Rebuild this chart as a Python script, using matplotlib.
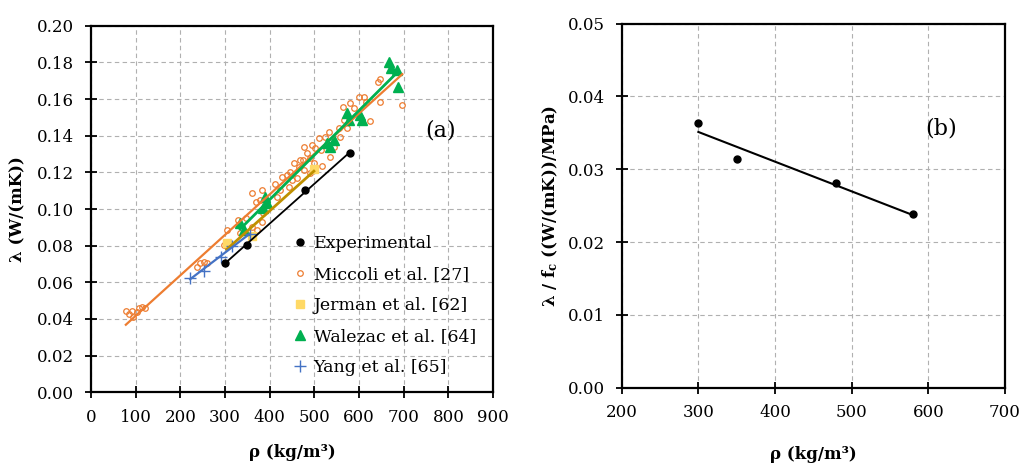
import numpy as np
import matplotlib
matplotlib.use("Agg")
import matplotlib.pyplot as plt
from matplotlib.ticker import FormatStrFormatter, MultipleLocator

plt.rcParams['font.family'] = ['DejaVu Serif']
plt.rcParams['mathtext.fontset'] = 'dejavuserif'

# experimental results
exp_rho = [300, 350, 480, 580]
exp_lam = [0.0705, 0.0805, 0.1105, 0.1305]
exp_lam_fc = [0.0364, 0.0314, 0.0281, 0.0238]

# literature data
miccoli_rho = [78, 84, 91, 95, 104, 108, 114, 120,
               237, 245, 252, 259,
               297, 304, 330, 334, 347, 360, 360, 370, 372, 379, 383, 383, 385,
               413, 417, 424, 428, 439, 443, 446, 450, 454, 461, 465, 469, 475,
               476, 476, 484, 491, 491, 495, 499, 502, 510, 514, 518, 525, 532,
               536, 544, 555, 558, 566, 574, 565, 580, 589, 600, 611, 615, 625,
               643, 648, 648, 697]
miccoli_lam = [0.0444, 0.0426, 0.0444, 0.0413, 0.0436, 0.0458, 0.0467, 0.0458,
               0.0686, 0.0704, 0.0713, 0.0704,
               0.0804, 0.0886, 0.0940, 0.0867, 0.0953, 0.0900, 0.1085, 0.1040,
               0.0886, 0.1050, 0.1104, 0.0931, 0.0977,
               0.1135, 0.1067, 0.1104, 0.1177, 0.1186, 0.1122, 0.1204, 0.1158,
               0.1249, 0.1167, 0.1231, 0.1267, 0.1268,
               0.1340, 0.1213, 0.1304, 0.1277, 0.1195, 0.1350, 0.1250, 0.1331,
               0.1386, 0.1322, 0.1235, 0.1395, 0.1422,
               0.1286, 0.1340, 0.1440, 0.1395, 0.1486, 0.1440, 0.1555, 0.1580,
               0.1550, 0.1610, 0.1610, 0.1586, 0.1480,
               0.1695, 0.1708, 0.1586, 0.1568]

jerman_rho = [304, 360, 499]
jerman_lam = [0.0813, 0.0855, 0.1220]

walezac_rho = [334, 342, 385, 390, 394, 529, 536, 544, 574, 577, 603, 607,
               668, 672, 686, 688]
walezac_lam = [0.0922, 0.0886, 0.1004, 0.1067, 0.1031, 0.1358, 0.1340, 0.1377,
               0.1522, 0.1486, 0.1513, 0.1486, 0.1804, 0.1768, 0.1759, 0.1668]

yang_rho = [222, 252, 291, 315, 355]
yang_lam = [0.0625, 0.0662, 0.0740, 0.0800, 0.0862]


# linear trend line over the data range
def trend(ax, x, y, color, lw):
    x = np.asarray(x, float)
    k, b = np.polyfit(x, y, 1)
    xs = np.array([x.min(), x.max()])
    ax.plot(xs, k * xs + b, color=color, lw=lw, zorder=3)


def style_axes(ax):
    ax.grid(True, ls=(0, (4, 3)), color='#b0b0b0', lw=0.8)
    ax.set_axisbelow(True)
    for s in ax.spines.values():
        s.set_linewidth(1.6)
        s.set_color('black')
    ax.tick_params(direction='inout', length=8, width=1.3, labelsize=12,
                   colors='black', pad=8)


fig = plt.figure(figsize=(10.19, 4.68), dpi=100)

# (a) thermal conductivity vs density
ax1 = fig.add_axes([0.0893, 0.1617, 0.3945, 0.7834])
ax1.plot(miccoli_rho, miccoli_lam, 'o', mfc='none', mec='#ED7D31', ms=4,
         mew=0.9, label='Miccoli et al. [27]', zorder=2)
ax1.plot(jerman_rho, jerman_lam, 's', color='#FFD966', ms=5.5,
         label='Jerman et al. [62]', zorder=2)
ax1.plot(walezac_rho, walezac_lam, '^', color='#00B050', ms=6.5,
         label='Walezac et al. [64]', zorder=2)
ax1.plot(yang_rho, yang_lam, '+', color='#4472C4', ms=9, mew=1.0,
         label='Yang et al. [65]', zorder=2)
ax1.plot(exp_rho, exp_lam, 'o', color='black', ms=5,
         label='Experimental', zorder=4)

trend(ax1, miccoli_rho, miccoli_lam, '#ED7D31', 1.6)
trend(ax1, jerman_rho, jerman_lam, '#BF9000', 2.0)
trend(ax1, walezac_rho, walezac_lam, '#00B050', 2.0)
trend(ax1, yang_rho, yang_lam, '#4472C4', 1.6)
trend(ax1, exp_rho, exp_lam, 'black', 1.3)

ax1.set_xlim(0, 900)
ax1.set_ylim(0, 0.20)
ax1.xaxis.set_major_locator(MultipleLocator(100))
ax1.yaxis.set_major_locator(MultipleLocator(0.02))
ax1.yaxis.set_major_formatter(FormatStrFormatter('%.2f'))
style_axes(ax1)
ax1.set_xlabel('ρ (kg/m³)', fontweight='bold', fontsize=12, labelpad=13)
ax1.set_ylabel('λ (W/(mK))', fontweight='bold', fontsize=12, labelpad=8)
ax1.text(783, 0.143, '(a)', fontsize=16, ha='center', va='center')

h, l = ax1.get_legend_handles_labels()
order = [4, 0, 1, 2, 3]
ax1.legend([h[i] for i in order], [l[i] for i in order], loc='lower left',
           bbox_to_anchor=(0.50, 0.045), frameon=False, fontsize=12.5,
           handlelength=0.9, handletextpad=0.35, labelspacing=0.8,
           borderpad=0, borderaxespad=0)

# (b) conductivity normalised by compressive strength
ax2 = fig.add_axes([0.6101, 0.1716, 0.3762, 0.7778])
ax2.plot(exp_rho, exp_lam_fc, 'o', color='black', ms=5, zorder=4)
trend(ax2, exp_rho, exp_lam_fc, 'black', 1.5)
ax2.set_xlim(200, 700)
ax2.set_ylim(0, 0.05)
ax2.xaxis.set_major_locator(MultipleLocator(100))
ax2.yaxis.set_major_locator(MultipleLocator(0.01))
ax2.yaxis.set_major_formatter(FormatStrFormatter('%.2f'))
style_axes(ax2)
ax2.set_xlabel('ρ (kg/m³)', fontweight='bold', fontsize=12, labelpad=18)
ax2.set_ylabel(r'λ / f$_\mathbf{c}$ ((W/(mK))/MPa)', fontweight='bold',
               fontsize=12, labelpad=6)
ax2.text(617, 0.0356, '(b)', fontsize=16, ha='center', va='center')

fig.savefig('out.png', dpi=100)
